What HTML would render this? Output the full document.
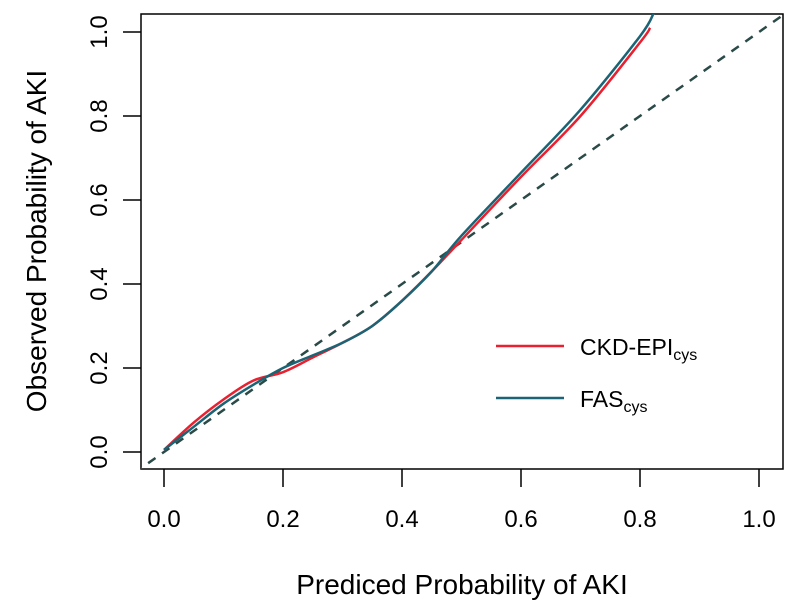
<!DOCTYPE html>
<html><head><meta charset="utf-8"><style>body{margin:0;background:#fff}svg{display:block;font-family:"Liberation Sans",sans-serif}</style></head>
<body>
<svg id="chart" width="793" height="608">
<defs><clipPath id="clip"><rect x="141" y="14" width="642" height="455"/></clipPath></defs>
<rect x="141" y="14" width="642" height="455" fill="none" stroke="#000" stroke-width="1.5"/>
<g id="xaxis"></g><g id="yaxis"></g>
<g id="series" clip-path="url(#clip)"></g>
<text x="462" y="594" font-size="28" text-anchor="middle">Prediced Probability of AKI</text>
<text transform="translate(46,241) rotate(-90)" font-size="28" text-anchor="middle">Observed Probability of AKI</text>
<g>
<line x1="496" y1="346" x2="564" y2="346" stroke="#e8202f" stroke-width="2.5"/>
<text x="580" y="355" font-size="23">CKD-EPI<tspan font-size="16" dy="5">cys</tspan></text>
<line x1="496" y1="398" x2="564" y2="398" stroke="#1b6475" stroke-width="2.5"/>
<text x="580" y="407" font-size="23">FAS<tspan font-size="16" dy="5">cys</tspan></text>
</g>
</svg>
<script>
const ticks=[0,0.2,0.4,0.6,0.8,1.0];
const tickLabels=["0.0","0.2","0.4","0.6","0.8","1.0"];
const ckdX=[0,0.05,0.1,0.15,0.2,0.25,0.3,0.35,0.4,0.45,0.5,0.6,0.7,0.8,0.817];
const ckdY=[0.005,0.07,0.125,0.17,0.19,0.225,0.26,0.3,0.36,0.43,0.505,0.655,0.8,0.975,1.01];
const fasX=[0,0.05,0.1,0.15,0.2,0.25,0.3,0.35,0.4,0.45,0.5,0.6,0.7,0.8,0.823];
const fasY=[0.005,0.06,0.115,0.16,0.2,0.23,0.26,0.3,0.36,0.43,0.515,0.665,0.815,0.99,1.045];
const X=v=>164+v*595, Y=v=>452-v*420;
const NS="http://www.w3.org/2000/svg";
function mk(t,a,p){const e=document.createElementNS(NS,t);for(const k in a)e.setAttribute(k,a[k]);p.appendChild(e);return e;}
const xa=document.getElementById('xaxis'),ya=document.getElementById('yaxis'),sg=document.getElementById('series');
ticks.forEach((t,i)=>{
 let l=mk('line',{x1:X(t),x2:X(t),y1:469,y2:487,stroke:'#000','stroke-width':1.5},xa);
 
 
 let tx=mk('text',{x:X(t),y:527,'font-size':24,'text-anchor':'middle'},xa);tx.textContent=tickLabels[i];
 
 
 let l2=mk('line',{x1:123,x2:141,y1:Y(t),y2:Y(t),stroke:'#000','stroke-width':1.5},ya);
 
 
 let ty=mk('text',{transform:`translate(107,${Y(t)}) rotate(-90)`,'font-size':24,'text-anchor':'middle'},ya);ty.textContent=tickLabels[i];
 
 
});
const d=mk('line',{x1:X(-0.05),y1:Y(-0.05),x2:X(1.05),y2:Y(1.05),stroke:'#2a4a48','stroke-width':2.5,'stroke-dasharray':'9,8'},sg);


function path(xs,ys,c,n){
 const P=xs.map((x,i)=>[X(x),Y(ys[i])]);
 let s='M'+P[0][0]+','+P[0][1];
 for(let i=0;i<P.length-1;i++){
  const p0=P[Math.max(i-1,0)],p1=P[i],p2=P[i+1],p3=P[Math.min(i+2,P.length-1)];
  s+=`C${p1[0]+(p2[0]-p0[0])/6},${p1[1]+(p2[1]-p0[1])/6} ${p2[0]-(p3[0]-p1[0])/6},${p2[1]-(p3[1]-p1[1])/6} ${p2[0]},${p2[1]}`;
 }
 const p=mk('path',{d:s,fill:'none',stroke:c,'stroke-width':2.5,'stroke-linejoin':'round'},sg);
 
 
}
path(ckdX,ckdY,'#e8202f','ckd-epi-cys-line');
path(fasX,fasY,'#1b6475','fas-cys-line');
</script>
</body></html>
